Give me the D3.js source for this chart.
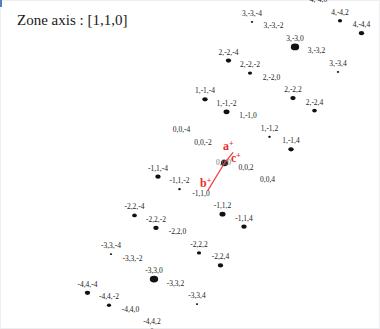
<!DOCTYPE html>
<html>
<head>
<meta charset="utf-8">
<script src="https://cdn.jsdelivr.net/npm/d3@7/dist/d3.min.js"></script>
<style>
  html, body { margin: 0; padding: 0; background: #fff; }
  svg { display: block; }
  text { font-family: "Liberation Serif", "Times New Roman", serif; }
</style>
</head>
<body>
<svg id="chart" width="380" height="329"></svg>
<script>
// Electron diffraction pattern, zone axis [1,1,0]: reflections (h, -h, l)
const zoneAxis = "[1,1,0]";

// Reflection indices (h, l) and relative spot intensities (0 = kinematically absent)
const hIndex = [ 4, 4, 4,
                 3, 3, 3, 3, 3,
                 2, 2, 2, 2, 2,
                 1, 1, 1, 1, 1,
                 0, 0, 0, 0,
                -1,-1,-1,-1,-1,
                -2,-2,-2,-2,-2,
                -3,-3,-3,-3,-3,
                -4,-4,-4,-4];
const lIndex = [ 0, 2, 4,
                -4,-2, 0, 2, 4,
                -4,-2, 0, 2, 4,
                -4,-2, 0, 2, 4,
                -4,-2, 2, 4,
                -4,-2, 0, 2, 4,
                -4,-2, 0, 2, 4,
                -4,-2, 0, 2, 4,
                -4,-2, 0, 2];
const intensity = [ 0, 25, 40,
                    8, 0, 100, 0, 8,
                   40, 25, 0, 40, 30,
                   40, 50, 0, 10, 40,
                    0, 0, 0, 0,
                   40, 10, 0, 50, 40,
                   30, 40, 0, 25, 40,
                    8, 0, 100, 0, 8,
                   40, 25, 0, 25];

// Projected reciprocal axes: name and endpoint in (h, l) lattice units
const axisNames = ["a*", "b*", "c*"];
const axisH = [0.5, -0.72, 0.3];
const axisL = [0, 0, 0.15];
const axisDrawn = [false, true, true];

const svg = d3.select("#chart");
const W = 380, H = 329;

// Faint frame of the pattern window
svg.append("rect").attr("x", 0.5).attr("y", 0.5).attr("width", W - 1).attr("height", H - 1)
  .attr("fill", "#fff").attr("stroke", "#eceef0").attr("stroke-width", 1);
svg.append("rect").attr("x", 0).attr("y", 0).attr("width", 2).attr("height", 7).attr("fill", "#4f7fbf");

// Oblique reciprocal-lattice scales: screen offset contributed by h (along [1,-1,0]) and by l (along [0,0,1])
const xH = d3.scaleLinear().domain([0, 1]).range([224.5, 248.0]);
const yH = d3.scaleLinear().domain([0, 1]).range([163.0, 124.3]);
const xL = d3.scaleLinear().domain([0, 2]).range([0, 21.5]);
const yL = d3.scaleLinear().domain([0, 2]).range([0, 12.5]);
const px = (h, l) => xH(h) + xL(l);
const py = (h, l) => yH(h) + yL(l);

const rScale = d3.scaleSqrt().domain([0, 100]).range([0, 4]);

const spots = hIndex.map((h, i) => ({ h, l: lIndex[i], I: intensity[i] }));
const fmt = v => (v === 0 ? "0" : String(v));
const label = d => `${fmt(d.h)},${fmt(-d.h)},${fmt(d.l)}`;

const g = svg.append("g");

// Spots
g.selectAll("ellipse.spot").data(spots.filter(d => d.I > 0)).join("ellipse")
  .attr("class", "spot")
  .attr("cx", d => px(d.h, d.l))
  .attr("cy", d => py(d.h, d.l))
  .attr("rx", d => rScale(d.I) * 1.05)
  .attr("ry", d => rScale(d.I) * 0.85)
  .attr("fill", "#111");

// Index labels
g.selectAll("text.idx").data(spots).join("text")
  .attr("class", "idx")
  .attr("x", d => px(d.h, d.l))
  .attr("y", d => py(d.h, d.l) - 6)
  .attr("text-anchor", "middle")
  .attr("font-size", 7.5)
  .attr("fill", "#222")
  .text(label);

// Transmitted beam (origin)
const ox = px(0, 0), oy = py(0, 0);
g.append("ellipse").attr("cx", ox).attr("cy", oy).attr("rx", 3.6).attr("ry", 3.2).attr("fill", "#222");
g.append("text").attr("x", ox - 1).attr("y", oy + 2)
  .attr("text-anchor", "middle")
  .attr("font-size", 7.5).attr("fill", "#777").text("0,0,0");

// Projected reciprocal axes
const axes = axisNames.map((n, i) => ({ n, h: axisH[i], l: axisL[i], drawn: axisDrawn[i] }));
g.selectAll("line.ax").data(axes.filter(d => d.drawn)).join("line")
  .attr("class", "ax")
  .attr("x1", ox).attr("y1", oy)
  .attr("x2", d => px(d.h, d.l)).attr("y2", d => py(d.h, d.l))
  .attr("stroke", "#f03a3a").attr("stroke-width", 1.2);

const axLabelPos = { "a*": [223, 150], "b*": [200, 187], "c*": [231, 162] };
axes.forEach(d => {
  const t = g.append("text")
    .attr("x", axLabelPos[d.n][0]).attr("y", axLabelPos[d.n][1])
    .attr("font-weight", "bold").attr("font-size", 12)
    .attr("fill", "#ee2a2a");
  t.append("tspan").text(d.n[0]);
  t.append("tspan").attr("font-size", 8).attr("dy", -4).text("+");
});

// Title
svg.append("text").attr("x", 17).attr("y", 25)
  .attr("font-size", 15).attr("fill", "#1a1a1a")
  .text(`Zone axis : ${zoneAxis}`);
</script>
</body>
</html>
